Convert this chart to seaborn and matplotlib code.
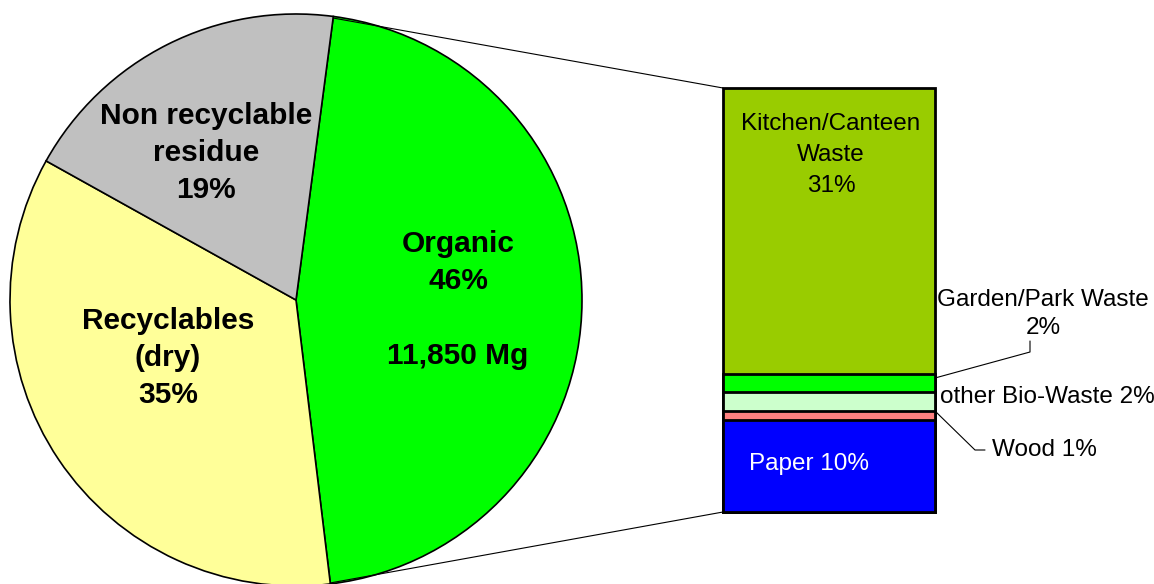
import matplotlib
matplotlib.use("Agg")
import matplotlib.pyplot as plt
import seaborn as sns
import pandas as pd

sns.set_theme(style="white")
plt.rcParams["font.family"] = ["Liberation Sans", "DejaVu Sans"]

# Main waste composition (pie)
pie_labels = ["Organic\n46%\n\n11,850 Mg", "Recyclables\n(dry)\n35%", "Non recyclable\nresidue\n19%"]
pie_values = [46, 35, 19]
pie_colors = ["#00FF00", "#FFFF99", "#C0C0C0"]

# Breakdown of the organic fraction (stacked bar), bottom to top
bar_names = ["Paper", "Wood", "other Bio-Waste", "Garden/Park Waste", "Kitchen/Canteen Waste"]
bar_values = [10, 1, 2, 2, 31]
bar_colors = ["#0000FF", "#FF8080", "#CCFFCC", "#00FF00", "#99CC00"]

W, H = 1154, 584
fig = plt.figure(figsize=(W / 100, H / 100), dpi=100)

# Stacked bar for the organic breakdown (drawn underneath the annotation layer)
bx0, bx1, by0, by1 = 723, 935, H - 512, H - 88
bax = fig.add_axes([bx0 / W, by0 / H, (bx1 - bx0) / W, (by1 - by0) / H], zorder=0)
cum = pd.Series(bar_values).cumsum().tolist()
df = pd.DataFrame({"x": ["Organic"] * len(cum), "top": cum, "name": bar_names})
for i in range(len(cum) - 1, -1, -1):
    sns.barplot(data=df.iloc[[i]], x="x", y="top", color=bar_colors[i], width=0.8,
                edgecolor="black", linewidth=2, saturation=1, ax=bax)
for p in bax.patches:
    p.set_clip_on(False)
bax.set_xlim(-0.4, 0.4)
bax.set_ylim(0, sum(bar_values))
bax.axis("off")

# Pie and annotation layer
ax = fig.add_axes([0, 0, 1, 1], zorder=1)
ax.patch.set_alpha(0)
cx, cy, r = 296, H - 300, 286
ax.pie(pie_values, colors=pie_colors, startangle=82.5, counterclock=False,
       center=(cx, cy), radius=r, frame=True,
       wedgeprops=dict(edgecolor="black", linewidth=1.2))
ax.set_xlim(0, W)
ax.set_ylim(0, H)
ax.set_aspect("equal")
ax.axis("off")

bold = dict(fontsize=21.5, fontweight="bold", ha="center", va="center",
            linespacing=1.42, color="black")
ax.text(458, H - 300, pie_labels[0], **bold)
ax.text(168, H - 358, pie_labels[1], **bold)
ax.text(206, H - 153, pie_labels[2], **bold)

# Connectors from the organic slice to the bar
ax.plot([333, bx0], [H - 18, by1], color="black", lw=0.8)
ax.plot([330, bx0], [H - 583, by0], color="black", lw=0.8)

norm = dict(fontsize=17.5, color="black")
ax.text(831, H - 155, "Kitchen/Canteen\nWaste\n31%", ha="center", va="center", linespacing=1.52, **norm)
ax.text(1043, H - 314, "Garden/Park Waste\n2%", ha="center", va="center", linespacing=1.4, **norm)
ax.text(940, H - 397, "other Bio-Waste 2%", ha="left", va="center", **norm)
ax.text(992, H - 450, "Wood 1%", ha="left", va="center", **norm)
ax.text(809, H - 464, "Paper 10%", ha="center", va="center", fontsize=17.5, color="white")

# Leader lines
ax.plot([bx1, 1030, 1030], [H - 378, H - 352, H - 341], color="black", lw=0.8)
ax.plot([bx1, 975, 985], [H - 411, H - 450, H - 450], color="black", lw=0.8)

fig.savefig("out.png", dpi=100)
